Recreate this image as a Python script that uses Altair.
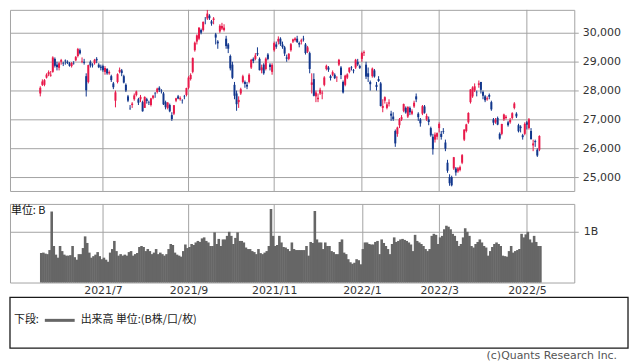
import altair as alt
import pandas as pd

# ---- trading days (year, month, days) ----
MONTH_DAYS = [
    (2021, 5, [20, 21, 24, 25, 26, 27, 28, 31]),
    (2021, 6, [1, 2, 3, 4, 7, 8, 9, 10, 11, 14, 15, 16, 17, 18, 21, 22, 23, 24, 25, 28, 29, 30]),
    (2021, 7, [1, 2, 5, 6, 7, 8, 9, 12, 13, 14, 15, 16, 19, 20, 21, 26, 27, 28, 29, 30]),
    (2021, 8, [2, 3, 4, 5, 6, 10, 11, 12, 13, 16, 17, 18, 19, 20, 23, 24, 25, 26, 27, 30, 31]),
    (2021, 9, [1, 2, 3, 6, 7, 8, 9, 10, 13, 14, 15, 16, 17, 21, 22, 24, 27, 28, 29, 30]),
    (2021, 10, [1, 4, 5, 6, 7, 8, 11, 12, 13, 14, 15, 18, 19, 20, 21, 22, 25, 26, 27, 28, 29]),
    (2021, 11, [1, 2, 4, 5, 8, 9, 10, 11, 12, 15, 16, 17, 18, 19, 22, 24, 25, 26, 29, 30]),
    (2021, 12, [1, 2, 3, 6, 7, 8, 9, 10, 13, 14, 15, 16, 17, 20, 21, 22, 23, 24, 27, 28, 29, 30]),
    (2022, 1, [4, 5, 6, 7, 11, 12, 13, 14, 17, 18, 19, 20, 21, 24, 25, 26, 27, 28, 31]),
    (2022, 2, [1, 2, 3, 4, 7, 8, 9, 10, 14, 15, 16, 17, 18, 21, 22, 24, 25, 28]),
    (2022, 3, [1, 2, 3, 4, 7, 8, 9, 10, 11, 14, 15, 16, 17, 18, 22, 23, 24, 25, 28, 29, 30, 31]),
    (2022, 4, [1, 4, 5, 6, 7, 8, 11, 12, 13, 14, 15, 18, 19, 20, 21, 22, 25, 26, 27, 28]),
    (2022, 5, [2, 6, 9, 10, 11, 12, 13]),
]

OPEN = [
    27900, 28200, 28200, 28450, 28560, 28520, 28650, 29100,
    28900, 28790, 29000, 28960, 29040, 29000, 28950, 28850, 28960, 29050, 29200, 29400, 29000, 29000, 28500, 28300, 29000, 28900, 28950, 29100, 28900, 28830,
    28850, 28650, 28750, 28600, 28500, 28250, 27650, 28300, 28650, 28700, 28500, 28200, 27800, 27400, 27500, 27700, 27850, 27700, 27700, 27600,
    27400, 27700, 27600, 27500, 27750, 27900, 27950, 28100, 28000, 27900, 27600, 27400, 27500, 27150, 27200, 27650, 27800, 27700, 27650, 27800, 27850,
    28100, 28400, 28650, 29400, 29700, 29800, 30100, 30100, 30450, 30500, 30600, 30400, 30450, 29950, 29700, 30050, 30150, 30100, 29800, 29600,
    29200, 28900, 28200, 27900, 27600, 27900, 28300, 28300, 28200, 28300, 28800, 29100, 29100, 29300, 29100, 28700, 28900, 28750, 29250, 28900, 28650,
    29400, 29600, 29700, 29800, 29600, 29500, 29150, 29100, 29400, 29700, 29750, 29800, 29650, 29700, 29800, 29600, 29350, 29300, 28200, 28400,
    27800, 27700, 27900, 27900, 28200, 28750, 28800, 28500, 28550, 28550, 28450, 28900, 28800, 28300, 28200, 28450, 28650, 28800, 28700, 28800, 29000, 28850,
    29100, 29300, 28900, 28600, 28300, 28500, 28700, 28200, 28400, 28250, 27400, 27650, 27400, 27550, 27200, 27100, 26600, 26500, 26800,
    27000, 27300, 27400, 27100, 27400, 27200, 27450, 27800, 27200, 27000, 27200, 27450, 27000, 27000, 26700, 26400, 26300, 26400,
    26700, 26500, 26600, 26200, 25500, 25000, 25000, 25300, 25300, 25200, 25250, 25500, 26300, 26600, 26900, 27600, 27800, 28000, 27950, 28200, 28300, 27950,
    27800, 27700, 27850, 27600, 27000, 26900, 27050, 26500, 26500, 27000, 27050, 26900, 26900, 27050, 27400, 27200, 26800, 26750, 26450, 26500,
    26900, 26700, 26600, 26100, 26250, 25950, 25950,
]
HIGH = [
    28150, 28390, 28400, 28600, 28700, 28680, 29190, 29150,
    29000, 29000, 29100, 29000, 29080, 29050, 28990, 28990, 29020, 29200, 29480, 29460, 29150, 29100, 28600, 28900, 29050, 28950, 29100, 29160, 28950, 28900,
    28900, 28850, 28780, 28700, 28550, 28300, 28000, 28600, 28800, 28750, 28550, 28250, 27850, 27500, 27600, 27900, 28000, 27750, 27850, 27650,
    27800, 27750, 27650, 27750, 27850, 27950, 28100, 28150, 28050, 27950, 27650, 27600, 27550, 27250, 27500, 27750, 27850, 27800, 27700, 27850, 28100,
    28500, 28600, 29150, 29700, 29950, 30200, 30150, 30400, 30550, 30796, 30650, 30450, 30550, 30000, 29750, 30300, 30350, 30300, 29900, 29650,
    29250, 29000, 28300, 28000, 27800, 28100, 28550, 28350, 28300, 28600, 29100, 29150, 29300, 29500, 29150, 28900, 28950, 29150, 29300, 28950, 28950,
    29700, 29700, 29880, 29850, 29700, 29550, 29250, 29300, 29650, 29800, 29850, 29900, 29700, 29800, 29900, 29650, 29550, 29350, 28600, 28600,
    28000, 27900, 28100, 28000, 28500, 28900, 28850, 28550, 28700, 28600, 28500, 29100, 28850, 28350, 28550, 28600, 28800, 28850, 28750, 29100, 29100, 28900,
    29350, 29390, 29000, 28800, 28350, 28800, 28750, 28300, 28500, 28300, 27700, 27800, 27600, 27700, 27300, 27250, 26650, 26750, 27050,
    27150, 27550, 27450, 27450, 27450, 27350, 27650, 27900, 27250, 27050, 27500, 27500, 27200, 27100, 26750, 26500, 26550, 26550,
    26900, 26600, 26700, 26300, 25600, 25100, 25050, 25700, 25350, 25350, 25400, 25800, 26650, 26850, 27250, 28050, 28150, 28250, 28000, 28350, 28300, 28000,
    27850, 27800, 27900, 27650, 27050, 27050, 27100, 26550, 26850, 27200, 27150, 26950, 27050, 27250, 27600, 27250, 26850, 26800, 26500, 26900,
    26950, 27050, 26700, 26300, 26300, 26000, 26450,
]
LOW = [
    27800, 28160, 28150, 28420, 28500, 28480, 28620, 28800,
    28700, 28700, 28900, 28850, 28900, 28920, 28830, 28800, 28900, 29020, 29150, 29250, 28950, 28900, 27795, 28250, 28800, 28800, 28900, 28950, 28780, 28700,
    28650, 28550, 28550, 28550, 28300, 28050, 27420, 28250, 28600, 28500, 28250, 27950, 27600, 27330, 27400, 27650, 27800, 27500, 27600, 27270,
    27400, 27550, 27500, 27450, 27700, 27750, 27900, 27950, 27900, 27500, 27350, 27350, 27250, 26950, 27150, 27600, 27700, 27650, 27550, 27700, 27800,
    28050, 28350, 28600, 29350, 29600, 29750, 29950, 30050, 30300, 30450, 30450, 30250, 30300, 29600, 29450, 30000, 30100, 30050, 29450, 29300,
    28700, 28400, 27700, 27300, 27400, 27850, 28250, 28100, 28050, 28250, 28750, 28950, 29050, 29200, 28700, 28600, 28550, 28700, 29050, 28700, 28550,
    29350, 29450, 29600, 29550, 29450, 29200, 29000, 29050, 29350, 29650, 29700, 29650, 29500, 29600, 29700, 29250, 29300, 28600, 27900, 27800,
    27600, 27600, 27850, 27700, 28150, 28700, 28650, 28350, 28500, 28400, 28300, 28850, 28400, 27900, 28150, 28400, 28600, 28700, 28600, 28750, 28850, 28750,
    29000, 29200, 28400, 28300, 28000, 28450, 28450, 28000, 28300, 27450, 27250, 27550, 27350, 27450, 26950, 26950, 26050, 26400, 26700,
    26950, 27250, 27200, 27050, 27150, 27150, 27400, 27600, 26950, 26750, 27150, 27200, 26950, 26800, 26400, 25780, 26200, 26300,
    26550, 26300, 26500, 25900, 25150, 24700, 24680, 25250, 25050, 25150, 25200, 25450, 26250, 26550, 26850, 27550, 27750, 27950, 27800, 28100, 27900, 27700,
    27600, 27650, 27700, 27300, 26800, 26850, 26800, 26300, 26450, 26950, 27000, 26750, 26850, 27000, 27350, 27050, 26550, 26550, 26300, 26450,
    26650, 26650, 26300, 25900, 26050, 25700, 25900,
]
CLOSE = [
    28098, 28317, 28364, 28553, 28642, 28549, 29149, 28860,
    28814, 28946, 29058, 28941, 29019, 28963, 28860, 28958, 28948, 29161, 29441, 29291, 29018, 28964, 28010, 28884, 28874, 28875, 29066, 29048, 28812, 28791,
    28707, 28783, 28598, 28643, 28366, 28118, 27940, 28569, 28718, 28608, 28279, 28003, 27652, 27388, 27548, 27833, 27970, 27581, 27782, 27283,
    27781, 27641, 27584, 27728, 27820, 27888, 28070, 28015, 27977, 27523, 27424, 27585, 27281, 27013, 27494, 27732, 27724, 27742, 27641, 27789, 28089,
    28451, 28543, 29128, 29659, 29916, 30181, 30008, 30381, 30447, 30670, 30511, 30323, 30500, 29839, 29639, 30248, 30240, 30183, 29544, 29452,
    28771, 28444, 27822, 27528, 27678, 28048, 28498, 28230, 28140, 28550, 29068, 29025, 29215, 29255, 28708, 28804, 28600, 29106, 29098, 28820, 28892,
    29647, 29520, 29794, 29611, 29507, 29285, 29106, 29277, 29609, 29776, 29808, 29688, 29598, 29745, 29774, 29302, 29499, 28751, 28283, 27821,
    27935, 27753, 28029, 27927, 28455, 28860, 28725, 28437, 28640, 28432, 28459, 29066, 28545, 27937, 28517, 28562, 28798, 28782, 28676, 29069, 28906, 28791,
    29301, 29332, 28487, 28478, 28222, 28765, 28489, 28124, 28333, 27467, 27467, 27772, 27522, 27588, 27131, 27011, 26170, 26717, 27001,
    27078, 27533, 27241, 27439, 27248, 27284, 27579, 27696, 27079, 26865, 27460, 27232, 27122, 26910, 26449, 25970, 26476, 26526,
    26844, 26393, 26577, 25985, 25221, 24790, 24717, 25690, 25162, 25307, 25346, 25762, 26652, 26827, 27224, 28040, 28110, 28149, 27943, 28252, 28027, 27821,
    27665, 27736, 27787, 27350, 26888, 26985, 26821, 26335, 26843, 27172, 27093, 26800, 26985, 27217, 27553, 27105, 26590, 26700, 26386, 26847,
    26818, 27003, 26319, 26167, 26213, 25748, 26427,
]
# volume in billions of shares
VOLUME = [
    0.58, 0.59, 0.57, 0.56, 0.64, 1.40, 0.72, 0.55, 0.49, 0.72, 0.62, 0.55, 0.53, 0.53, 0.54, 0.72, 0.50, 0.45, 0.56, 0.56,
    0.68, 0.91, 0.78, 0.59, 0.49, 0.52, 0.55, 0.60, 0.52, 0.46, 0.49, 0.45, 0.41, 0.59, 0.66, 0.82, 0.62, 0.53, 0.56, 0.53,
    0.55, 0.53, 0.60, 0.62, 0.53, 0.56, 0.58, 0.70, 0.72, 0.70, 0.62, 0.66, 0.62, 0.56, 0.59, 0.66, 0.56, 0.59, 0.56, 0.53,
    0.56, 0.66, 0.76, 0.74, 0.59, 0.55, 0.53, 0.51, 0.62, 0.75, 0.68, 0.70, 0.76, 0.74, 0.79, 0.82, 0.80, 0.87, 0.89, 0.82,
    0.79, 0.72, 0.72, 0.99, 0.76, 0.86, 0.72, 0.85, 0.85, 0.92, 1.00, 0.92, 0.76, 0.88, 0.99, 0.82, 0.82, 0.79, 0.69, 0.66,
    0.66, 0.62, 0.60, 0.56, 0.66, 0.58, 0.56, 0.59, 0.62, 0.72, 1.45, 0.92, 0.72, 0.74, 0.92, 0.79, 0.70, 0.69, 0.66, 0.62,
    0.79, 0.66, 0.64, 0.64, 0.64, 0.64, 0.64, 0.72, 0.53, 0.80, 0.78, 1.41, 0.85, 0.79, 0.79, 0.66, 0.79, 0.72, 0.72, 0.62,
    0.60, 0.56, 0.56, 0.80, 0.85, 0.59, 0.56, 0.46, 0.40, 0.37, 0.39, 0.46, 0.44, 0.36, 0.66, 0.79, 0.79, 0.76, 0.75, 0.75,
    0.80, 0.82, 0.56, 0.85, 0.78, 0.72, 0.66, 0.56, 0.76, 0.89, 0.80, 0.82, 0.85, 0.86, 0.84, 0.82, 0.79, 0.75, 0.62, 0.94,
    0.82, 0.79, 0.76, 0.72, 0.66, 0.62, 0.66, 0.92, 0.96, 0.94, 0.76, 0.89, 0.92, 1.05, 1.12, 1.10, 1.05, 0.96, 0.92, 0.82,
    0.72, 0.76, 0.89, 1.07, 1.00, 0.92, 0.72, 0.69, 0.76, 0.80, 0.85, 0.79, 0.72, 0.69, 0.53, 0.62, 0.70, 0.76, 0.79, 0.76,
    0.72, 0.53, 0.52, 0.51, 0.62, 0.72, 0.59, 0.62, 0.64, 0.66, 0.96, 0.89, 0.95, 1.00, 0.85, 0.79, 0.92, 0.80, 0.72, 0.72,
]

PRICE_TICKS = [25000, 26000, 27000, 28000, 29000, 30000]
MONTH_LABELS = [(2021, 7, "2021/7"), (2021, 9, "2021/9"), (2021, 11, "2021/11"),
                (2022, 1, "2022/1"), (2022, 3, "2022/3"), (2022, 5, "2022/5")]

RED = "#e8194a"
BLUE = "#11368c"
GRID = "#a3a3a3"
FONT = "DejaVu Sans"
JFONT = "Noto Sans CJK JP"

# ---- build table ----
dates = [(y, m, d) for (y, m, ds) in MONTH_DAYS for d in ds]
n = len(dates)
assert n == len(OPEN) == len(HIGH) == len(LOW) == len(CLOSE) == len(VOLUME), (
    n, len(OPEN), len(HIGH), len(LOW), len(CLOSE), len(VOLUME))
df = pd.DataFrame({
    "i": list(range(n)),
    "date": [f"{y}-{m:02d}-{d:02d}" for (y, m, d) in dates],
    "open": OPEN, "high": HIGH, "low": LOW, "close": CLOSE, "vol": VOLUME,
})
df["dir"] = ["up" if c >= o else "down" for o, c in zip(OPEN, CLOSE)]

tick_idx, tick_lab = [], []
for (yy, mm, lab) in MONTH_LABELS:
    k = next(j for j, (y, m, d) in enumerate(dates) if y == yy and m == mm)
    tick_idx.append(k)
    tick_lab.append(lab)
x_label_expr = " : ".join(f"datum.value == {k} ? '{l}'" for k, l in zip(tick_idx, tick_lab)) + " : ''"
y_label_expr = " : ".join(f"datum.value == {v} ? '{v:,}'" for v in PRICE_TICKS) + " : ''"
grid_df = pd.DataFrame({"i": tick_idx})

W = 567
xscale = alt.Scale(domain=[-14.5, 255.7], nice=False, zero=False, padding=0)
yscale = alt.Scale(domain=[24520, 30800], nice=False, zero=False, padding=0)
color = alt.Color("dir:N", scale=alt.Scale(domain=["up", "down"], range=[RED, BLUE]), legend=None)

# ---- price panel ----
ya_price = alt.Axis(orient="right", values=PRICE_TICKS, labelExpr=y_label_expr, grid=True,
                    domain=False, tickSize=4, labelPadding=4, labelOverlap=False, title=None)
vgrid = alt.Chart(grid_df).mark_rule(color=GRID, strokeWidth=1).encode(
    x=alt.X("i:Q", scale=xscale, axis=None))
base = alt.Chart(df)
wick = base.mark_rule(strokeWidth=1).encode(
    x=alt.X("i:Q", scale=xscale, axis=None),
    y=alt.Y("low:Q", scale=yscale, axis=ya_price),
    y2="high:Q", color=color)
body = base.mark_bar(size=2).encode(
    x=alt.X("i:Q", scale=xscale, axis=None),
    y=alt.Y("open:Q", scale=yscale, axis=ya_price),
    y2="close:Q", color=color)
price = alt.layer(vgrid, wick, body).properties(width=W, height=182)

# ---- volume panel ----
vol = base.mark_bar(size=2.6, color="#666666", xOffset=1).encode(
    x=alt.X("i:Q", scale=xscale,
            axis=alt.Axis(values=tick_idx, grid=True, ticks=False, domain=False,
                          labelExpr=x_label_expr, labelPadding=2, title=None)),
    y=alt.Y("vol:Q", scale=alt.Scale(domain=[0, 1.55], nice=False, padding=0),
            axis=alt.Axis(orient="right", values=[1], labelExpr="'1B'", grid=True,
                          domain=False, tickSize=4, labelPadding=5, title=None)),
)
note = alt.Chart(pd.DataFrame({"k": [0]}))
unit = note.mark_text(text="単位: B", font=JFONT, fontSize=11, align="left",
                      baseline="middle", color="#111").encode(x=alt.value(1), y=alt.value(7))
box = note.mark_rect(fill="white", stroke="#1a1a1a", strokeWidth=1.3).encode(
    x=alt.value(0), x2=alt.value(621), y=alt.value(94), y2=alt.value(145))
leg1 = note.mark_text(text="下段:", font=JFONT, fontSize=11, align="left",
                      baseline="middle", color="#222").encode(x=alt.value(4), y=alt.value(117))
legline = note.mark_rule(stroke="#666666", strokeWidth=3).encode(
    x=alt.value(35), x2=alt.value(65), y=alt.value(117))
leg2 = note.mark_text(text="出来高 単位:(B株/口/枚)", font=JFONT, fontSize=11, align="left",
                      baseline="middle", color="#222").encode(x=alt.value(71), y=alt.value(117))
copy = note.mark_text(text="(c)Quants Research Inc.", font=FONT, fontSize=11, align="right",
                      baseline="middle", color="#555").encode(x=alt.value(610), y=alt.value(153))
volume = alt.layer(vol, unit, box, leg1, legline, leg2, copy).properties(width=W, height=79)

chart = alt.vconcat(price, volume, spacing=11).properties(padding=0).configure_axis(
    labelFont=FONT, labelFontSize=11, labelColor="#333", gridColor=GRID, tickColor=GRID,
    gridWidth=1,
).configure_view(stroke=GRID, strokeWidth=1)

chart.save("out.html", embed_options={"renderer": "svg", "actions": False})
